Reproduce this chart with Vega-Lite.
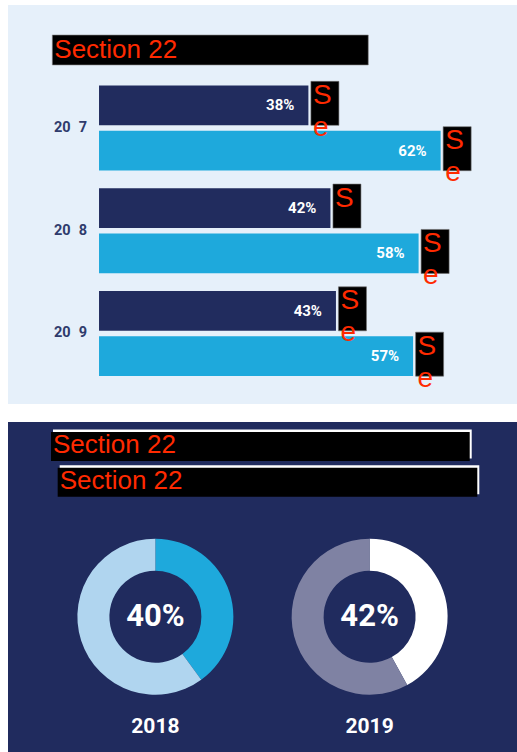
{
  "$schema": "https://vega.github.io/schema/vega-lite/v6.json",
  "background": "white",
  "padding": {"left": 8, "top": 5, "right": 0, "bottom": 0},
  "bounds": "flush",
  "spacing": 18,
  "config": {
    "view": {"stroke": null},
    "axis": {"disable": true},
    "legend": {"disable": true}
  },
  "vconcat": [
    {
      "width": 509,
      "height": 399,
      "view": {"fill": "#e6f0fa", "stroke": null},
      "resolve": {"scale": {"y": "independent"}},
      "layer": [
        {
          "data": {"values": [{"heading": "Section 22"}]},
          "encoding": {
            "x": {"datum": -0.0848, "type": "quantitative", "scale": {"domain": [-0.1652, 0.7586], "nice": false, "zero": false}, "axis": null},
            "y": {"field": "heading", "type": "nominal", "scale": {"type": "band", "domain": ["Section 22"], "paddingInner": 0.8374, "paddingOuter": 1, "align": 0.0813}, "axis": null}
          },
          "layer": [
            {"mark": {"type": "rect", "color": "black", "stroke": "#8a8a8a", "strokeWidth": 0.6}, "encoding": {"x2": {"datum": 0.4887}}},
            {"mark": {"type": "text", "align": "left", "baseline": "middle", "dx": 2, "font": "Liberation Sans", "fontSize": 26, "color": "#ff2a00"}, "encoding": {"text": {"field": "heading"}}}
          ]
        },
        {
          "data": {"values": [
            {"year": "20\u20077", "group": "A", "share": 0.38, "redacted": "S\ne"},
            {"year": "20\u20077", "group": "B", "share": 0.62, "redacted": "S\ne"},
            {"year": "20\u20078", "group": "A", "share": 0.42, "redacted": "S"},
            {"year": "20\u20078", "group": "B", "share": 0.58, "redacted": "S\ne"},
            {"year": "20\u20079", "group": "A", "share": 0.43, "redacted": "S\ne"},
            {"year": "20\u20079", "group": "B", "share": 0.57, "redacted": "S\ne"}
          ]},
          "encoding": {
            "x": {"field": "share", "type": "quantitative", "scale": {"domain": [-0.1652, 0.7586], "nice": false, "zero": false}, "axis": null},
            "y": {"field": "year", "type": "nominal", "scale": {"type": "band", "domain": ["20\u20077", "20\u20078", "20\u20079"], "paddingInner": 0.172, "paddingOuter": 0.528, "align": 0.742}, "axis": null}
          },
          "layer": [
            {
              "mark": {"type": "bar"},
              "encoding": {
                "yOffset": {"field": "group", "type": "nominal", "scale": {"type": "band", "domain": ["A", "B"], "paddingInner": 0.124, "paddingOuter": 0}},
                "color": {"field": "group", "type": "nominal", "scale": {"domain": ["A", "B"], "range": ["#212c5e", "#1ea9dc"]}, "legend": null}
              }
            },
            {
              "mark": {"type": "text", "align": "right", "baseline": "middle", "dx": -14, "font": "Roboto", "fontWeight": "bold", "fontSize": 15, "color": "white"},
              "encoding": {
                "yOffset": {"field": "group", "type": "nominal"},
                "text": {"field": "share", "type": "quantitative", "format": ".0%"}
              }
            },
            {
              "mark": {"type": "point", "shape": "M0.09,-0.857H1.09V0.714H0.09Z", "size": 3136, "filled": true, "color": "black", "opacity": 1, "stroke": "#707070", "strokeWidth": 0.6},
              "encoding": {"yOffset": {"field": "group", "type": "nominal"}}
            },
            {
              "mark": {"type": "text", "align": "left", "baseline": "alphabetic", "dx": 4.5, "dy": -1.5, "font": "Liberation Sans", "fontSize": 28, "lineHeight": 32, "lineBreak": "\n", "color": "#ff2a00"},
              "encoding": {
                "yOffset": {"field": "group", "type": "nominal"},
                "text": {"field": "redacted"}
              }
            },
            {
              "transform": [{"filter": "datum.group === 'A'"}],
              "mark": {"type": "text", "align": "right", "baseline": "middle", "dx": -12, "font": "Roboto", "fontWeight": "bold", "fontSize": 14.5, "color": "#2f3b6c"},
              "encoding": {
                "x": {"datum": 0, "type": "quantitative"},
                "text": {"field": "year"}
              }
            }
          ]
        }
      ]
    },
    {
      "width": 509,
      "height": 330,
      "view": {"fill": "#202b5e", "stroke": null},
      "resolve": {"scale": {"x": "independent", "y": "independent"}},
      "layer": [
        {
          "data": {"values": [
            {"line": "1", "heading": "Section 22"},
            {"line": "2", "heading": "Section 22"}
          ]},
          "resolve": {"scale": {"y": "independent"}},
          "layer": [
            {
              "transform": [{"filter": "datum.line === '1'"}],
              "encoding": {
                "x": {"datum": 0.0845, "type": "quantitative", "scale": {"domain": [0, 1], "nice": false, "zero": false}, "axis": null},
                "y": {"field": "line", "type": "nominal", "scale": {"type": "band", "domain": ["1"], "paddingInner": 0.8073, "paddingOuter": 1, "align": 0.0332}, "axis": null}
              },
              "layer": [
                {"mark": {"type": "rect", "color": "white", "xOffset": 2, "x2Offset": 2, "yOffset": -2.5, "y2Offset": -2.5}, "encoding": {"x2": {"datum": 0.9071}}},
                {"mark": {"type": "rect", "color": "black"}, "encoding": {"x2": {"datum": 0.9071}}},
                {"mark": {"type": "text", "align": "left", "baseline": "middle", "dx": 2, "dy": -1.5, "font": "Liberation Sans", "fontSize": 26, "color": "#ff2a00"}, "encoding": {"text": {"field": "heading"}}}
              ]
            },
            {
              "transform": [{"filter": "datum.line === '2'"}],
              "encoding": {
                "x": {"datum": 0.0976, "type": "quantitative", "scale": {"domain": [0, 1], "nice": false, "zero": false}, "axis": null},
                "y": {"field": "line", "type": "nominal", "scale": {"type": "band", "domain": ["2"], "paddingInner": 0.8073, "paddingOuter": 1, "align": 0.1518}, "axis": null}
              },
              "layer": [
                {"mark": {"type": "rect", "color": "white", "xOffset": 2, "x2Offset": 2, "yOffset": -2.5, "y2Offset": -2.5}, "encoding": {"x2": {"datum": 0.922}}},
                {"mark": {"type": "rect", "color": "black"}, "encoding": {"x2": {"datum": 0.922}}},
                {"mark": {"type": "text", "align": "left", "baseline": "middle", "dx": 2, "dy": -1.5, "font": "Liberation Sans", "fontSize": 26, "color": "#ff2a00"}, "encoding": {"text": {"field": "heading"}}}
              ]
            }
          ]
        },
        {
          "data": {"values": [
            {"year": "2018", "part": "share", "value": 0.40},
            {"year": "2018", "part": "rest", "value": 0.60},
            {"year": "2019", "part": "share", "value": 0.42},
            {"year": "2019", "part": "rest", "value": 0.58}
          ]},
          "transform": [
            {"stack": "value", "groupby": ["year"], "sort": [{"field": "part", "order": "descending"}], "as": ["v0", "v1"]}
          ],
          "encoding": {
            "x": {"field": "year", "type": "nominal", "scale": {"type": "point", "domain": ["2018", "2019"], "padding": 0.688, "align": 0.5}, "axis": null}
          },
          "layer": [
            {
              "mark": {"type": "arc", "innerRadius": 46, "outerRadius": 78},
              "encoding": {
                "y": {"datum": "donut", "type": "nominal", "scale": {"type": "point", "domain": ["donut", "caption"], "padding": 1, "align": 0.885}, "axis": null},
                "theta": {"field": "v0", "type": "quantitative", "scale": {"domain": [0, 1]}, "stack": null},
                "theta2": {"field": "v1"},
                "color": {
                  "condition": [
                    {"test": "datum.year === '2018' && datum.part === 'share'", "value": "#1ea9dc"},
                    {"test": "datum.year === '2018'", "value": "#b0d5ef"},
                    {"test": "datum.part === 'share'", "value": "#ffffff"}
                  ],
                  "value": "#7f82a3"
                }
              }
            },
            {
              "transform": [{"filter": "datum.part === 'share'"}],
              "mark": {"type": "text", "align": "center", "baseline": "middle", "font": "Roboto", "fontWeight": "bold", "fontSize": 31, "color": "white"},
              "encoding": {
                "y": {"datum": "donut", "type": "nominal"},
                "text": {"field": "value", "type": "quantitative", "format": ".0%"}
              }
            },
            {
              "transform": [{"filter": "datum.part === 'share'"}],
              "mark": {"type": "text", "align": "center", "baseline": "middle", "font": "Roboto", "fontWeight": "bold", "fontSize": 21, "color": "white"},
              "encoding": {
                "y": {"datum": "caption", "type": "nominal"},
                "text": {"field": "year"}
              }
            }
          ]
        }
      ]
    }
  ]
}
